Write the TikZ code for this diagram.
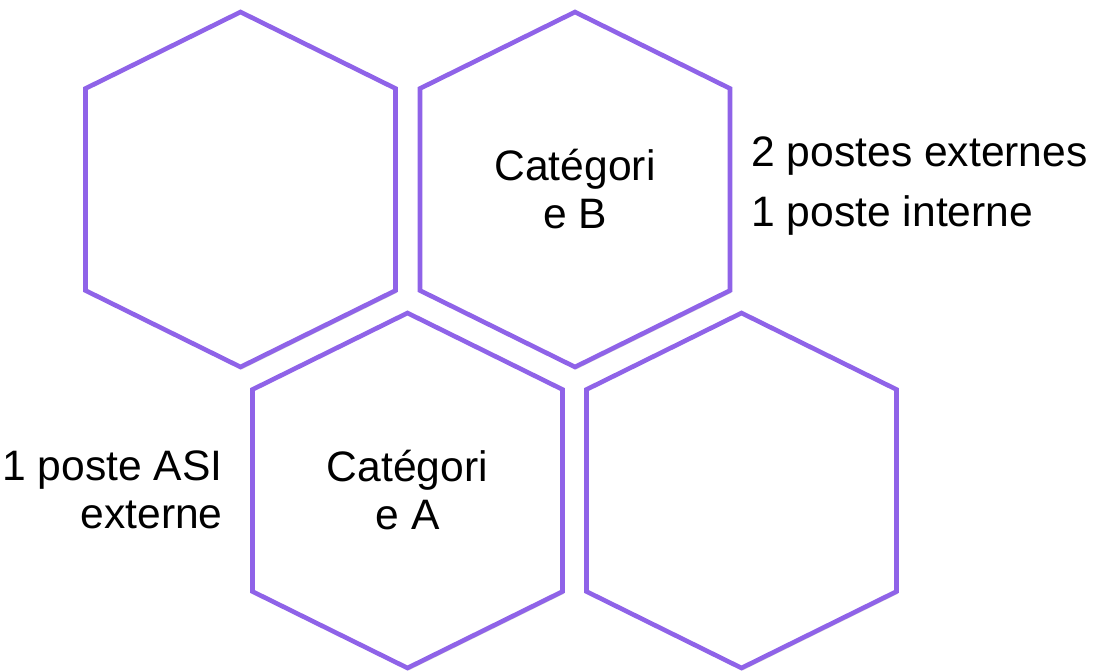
\documentclass[tikz,border=0pt]{standalone}
\usepackage{fontspec}
\setmainfont{Liberation Sans}
\usetikzlibrary{positioning,shadows}
\definecolor{hexpurple}{RGB}{143,99,232}

\begin{document}
\begin{tikzpicture}[x=0.5pt,y=-0.5pt,
    hexline/.style={draw=hexpurple,line width=2.3pt,line join=miter,fill=white,
      drop shadow={shadow xshift=0.6pt,shadow yshift=-1.2pt,opacity=0.3}},
    cell/.style={inner sep=0pt,outer sep=0pt,minimum size=0pt},
    txt/.style={inner sep=0pt,font=\fontsize{21.3}{24}\selectfont}]
      \useasboundingbox (0,0) rectangle (1100,671);
      \node[cell] (h1) at (240.5,189.5) {};
      \node[cell,right=167.25pt of h1] (h2) {};
      \node[cell,below right=150.5pt and 83.5pt of h1] (h3) {};
      \node[cell,right=167pt of h3] (h4) {};
      %% Hexagons
      \draw[hexline] (h1) +(0,-177.5) -- +(155,-101) -- +(155,101) -- +(0,177.5) -- +(-155,101) -- +(-155,-101) -- cycle;
      \draw[hexline] (h2) +(0,-177.5) -- +(155,-101) -- +(155,101) -- +(0,177.5) -- +(-155,101) -- +(-155,-101) -- cycle;
      \draw[hexline] (h3) +(0,-177.5) -- +(155,-101) -- +(155,101) -- +(0,177.5) -- +(-155,101) -- +(-155,-101) -- cycle;
      \draw[hexline] (h4) +(0,-177.5) -- +(155,-101) -- +(155,101) -- +(0,177.5) -- +(-155,101) -- +(-155,-101) -- cycle;
      %% Texts
      \node[txt,align=center] (catB) at (h2) {Catégori\\e B};
      \node[txt,align=center] (catA) at (h3) {Catégori\\e A};
      \node[txt,align=right,anchor=east] (asi) at (223,489.5) {1 poste ASI\\externe};
      \node[txt,align=left,anchor=west,font=\fontsize{21.3}{30}\selectfont] (postes) at (751,186.5) {2 postes externes\\1 poste interne};
    \end{tikzpicture}
\end{document}
